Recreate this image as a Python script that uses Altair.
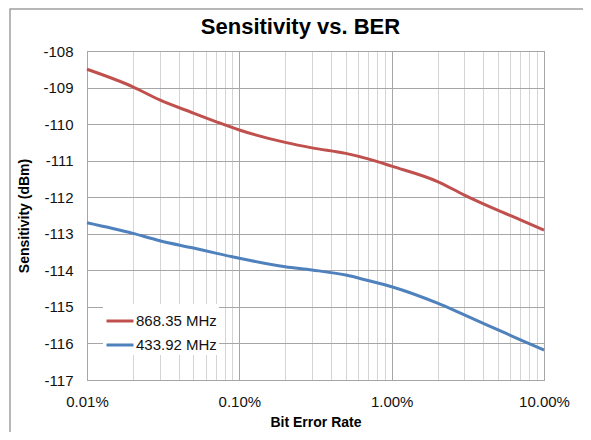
import altair as alt
import pandas as pd

# Bit error rate in percent
ber = [0.01, 0.02, 0.03, 0.05, 0.07, 0.1, 0.2, 0.3, 0.5, 0.7, 1, 2, 3, 5, 7, 10]
sens_868 = [-108.50, -108.98, -109.34, -109.70, -109.93, -110.16, -110.50, -110.65,
            -110.80, -110.95, -111.15, -111.57, -111.94, -112.36, -112.62, -112.90]
sens_433 = [-112.70, -112.99, -113.19, -113.39, -113.53, -113.67, -113.90, -113.99,
            -114.13, -114.28, -114.45, -114.90, -115.22, -115.63, -115.90, -116.18]
series = ["868.35 MHz", "433.92 MHz"]
colors = ["#c0504d", "#4f81bd"]

x_ticks = [0.01, 0.02, 0.03, 0.04, 0.05, 0.06, 0.07, 0.08, 0.09,
           0.1, 0.2, 0.3, 0.4, 0.5, 0.6, 0.7, 0.8, 0.9,
           1, 2, 3, 4, 5, 6, 7, 8, 9, 10]
y_ticks = [-117, -116, -115, -114, -113, -112, -111, -110, -109, -108]

rows = []
for b, a, c in zip(ber, sens_868, sens_433):
    rows.append({"ber": b, "sens": a, "series": series[0]})
    rows.append({"ber": b, "sens": c, "series": series[1]})
df = pd.DataFrame(rows)

FONT = "Liberation Sans"
major_test = "indexof([0.01, 0.1, 1, 10], datum.value) >= 0"

lines = alt.Chart(df).mark_line(strokeWidth=3, interpolate="monotone").encode(
    x=alt.X("ber:Q",
            scale=alt.Scale(type="log", domain=[0.01, 10], nice=False),
            axis=alt.Axis(
                title="Bit Error Rate",
                values=x_ticks,
                labelExpr=major_test + " ? format(datum.value, '.2f') + '%' : ''",
                labelOverlap=False,
                labelFlush=False,
                ticks=False,
                domain=False,
                labelPadding=14,
                titlePadding=6,
                gridColor={"condition": {"test": major_test, "value": "#a6a6a6"},
                           "value": "#d4d4d4"},
                gridWidth=1,
            )),
    y=alt.Y("sens:Q",
            scale=alt.Scale(domain=[-117, -108], nice=False, zero=False),
            axis=alt.Axis(
                title="Sensitivity (dBm)",
                values=y_ticks,
                labelExpr="'' + datum.value",
                ticks=False,
                domain=False,
                labelPadding=14,
                titlePadding=11,
                gridColor="#a6a6a6",
                gridWidth=1,
            )),
    color=alt.Color("series:N",
                    scale=alt.Scale(domain=series, range=colors),
                    sort=series,
                    legend=alt.Legend(
                        title=None,
                        orient="none",
                        legendX=16,
                        legendY=253,
                        fillColor="white",
                        padding=2,
                        symbolType="stroke",
                        symbolSize=729,
                        symbolStrokeWidth=3,
                        labelOffset=1,
                        labelFontSize=15,
                        labelFont=FONT,
                        labelColor="#111",
                        rowPadding=1,
                    )),
)

# outer chart-area frame (left and top edges visible)
frame = alt.Chart().mark_rect(fill=None, filled=False, stroke="#a0a0a0",
                              strokeWidth=1.5).encode(
    x=alt.value(-77), x2=alt.value(600), y=alt.value(-42), y2=alt.value(420))

chart = alt.layer(frame, lines).properties(
    width=457,
    height=329,
    padding={"left": 79, "top": 43, "right": 39, "bottom": 52},
    autosize=alt.AutoSizeParams(type="none"),
    title=alt.TitleParams("Sensitivity vs. BER", fontSize=22, font=FONT,
                          fontWeight="bold", color="#000", anchor="middle",
                          frame="group", dx=-15, offset=-31),
).configure_view(
    stroke="#a6a6a6", strokeWidth=1
).configure_axis(
    labelFont=FONT, labelFontSize=15, labelColor="#111",
    titleFont=FONT, titleFontSize=14, titleFontWeight="bold", titleColor="#000",
)

chart.save("out.html", embed_options={"renderer": "svg", "actions": False})
